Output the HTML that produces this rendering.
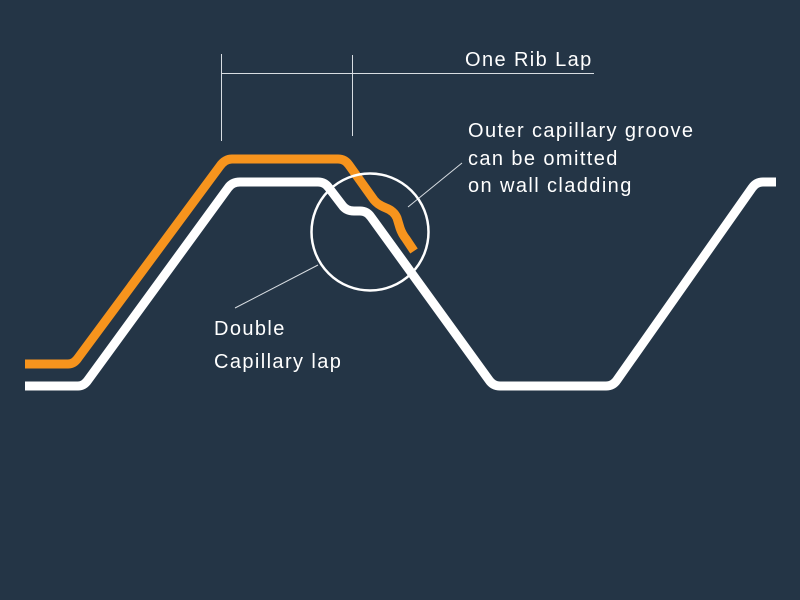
<!DOCTYPE html>
<html><head><style>
html,body{margin:0;padding:0;background:#243546;}
svg{display:block}
text{font-family:"Liberation Sans",sans-serif;font-size:20px;fill:#fff;letter-spacing:1.4px;}
</style></head><body>
<svg width="800" height="600" viewBox="0 0 800 600">
<rect width="800" height="600" fill="#243546"/>
<g stroke="#d8dde2" stroke-width="1" fill="none">
<line x1="221.5" y1="54" x2="221.5" y2="141"/>
<line x1="352.5" y1="55" x2="352.5" y2="136"/>
<line x1="222" y1="73.5" x2="594" y2="73.5"/>
<line x1="408" y1="207" x2="462" y2="163"/>
<line x1="318" y1="265" x2="235" y2="308"/>
</g>
<path d="M25 364 H68 Q74 364 78 358 L220 166 Q225 159 232 159 H338 Q345 159 349 165 L374 200 Q378 205 386 208 Q394 211 397 218 L400 228 Q402 234 406 239 L414 251" stroke="#f7941d" stroke-width="9" fill="none" stroke-linejoin="round"/>
<path d="M25 386 H78 Q84 386 88 380 L228 188 Q232 182 240 182 H318 Q325 182 329 188 L342 205 Q346 211 354 211 H360 Q367 211 371 217 L489 380 Q493 386 500 386 H606 Q613 386 617 380 L752 188 Q756 182 763 182 H776" stroke="#fff" stroke-width="9" fill="none" stroke-linejoin="round"/>
<circle cx="370" cy="232" r="58.5" stroke="#fff" stroke-width="2.5" fill="none"/>
<text x="465" y="66">One Rib Lap</text>
<text x="468" y="137">Outer capillary groove</text>
<text x="468" y="165">can be omitted</text>
<text x="468" y="192">on wall cladding</text>
<text x="214" y="335">Double</text>
<text x="214" y="368">Capillary lap</text>
</svg>
</body></html>
